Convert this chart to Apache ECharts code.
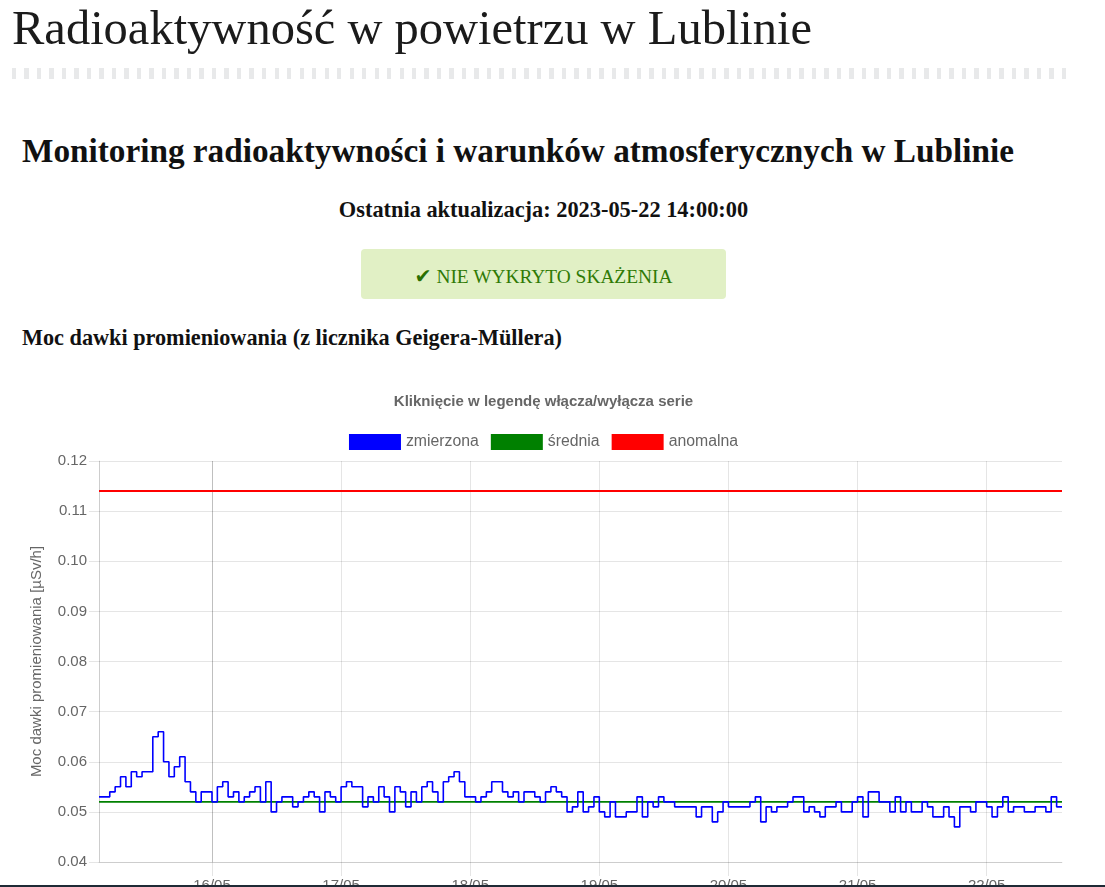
<!DOCTYPE html>
<html lang="pl">
<head>
<meta charset="utf-8">
<title>Radioaktywność w powietrzu w Lublinie</title>
<script src="https://cdn.jsdelivr.net/npm/echarts@6/dist/echarts.min.js"></script>
<style>
html,body{margin:0;padding:0;background:#fff;width:1105px;height:887px;overflow:hidden;}
.t{position:absolute;white-space:nowrap;font-family:"Liberation Serif","Times New Roman",serif;line-height:1;color:#111;}
.sep{position:absolute;left:12px;top:68px;width:1056px;height:11px;
 background:repeating-linear-gradient(90deg,#e8e9ea 0,#e8e9ea 4px,transparent 4px,transparent 12.5px);}
.alert{position:absolute;left:361px;top:249px;width:365px;height:50px;background:#e1f0c5;border-radius:4px;}
.chk{font-family:"DejaVu Sans",sans-serif;font-size:1.05em;color:#2a6f02;}
#chart{position:absolute;left:22px;top:370px;width:1043px;height:517px;}
.bottombar{position:absolute;left:0;bottom:0;width:1105px;height:2px;background:#1f2a35;}
</style>
</head>
<body>
<div class="t" style="left:12px;font-size:48px;color:#1b1b1b" data-w="800" data-base="45">Radioaktywność w powietrzu w Lublinie</div>
<div class="sep"></div>
<div class="t" style="left:22px;font-size:32px;font-weight:bold" data-w="992" data-base="162">Monitoring radioaktywności i warunków atmosferycznych w Lublinie</div>
<div class="t" style="font-size:19px;font-weight:bold" data-w="409" data-cx="543.5" data-base="218">Ostatnia aktualizacja: 2023-05-22 14:00:00</div>
<div class="alert"></div>
<div class="t" style="font-size:21px;color:#2f7a05" data-w="258" data-cx="543.5" data-base="282"><span class="chk">✔</span> NIE WYKRYTO SKAŻENIA</div>
<div class="t" style="left:22px;font-size:20px;font-weight:bold" data-w="540" data-base="346">Moc dawki promieniowania (z licznika Geigera-Müllera)</div>
<div id="chart"></div>
<div class="bottombar"></div>
<script>
// ---------- DATA ----------
const seriesNames = ['zmierzona', 'średnia', 'anomalna'];
const chartTitle = 'Kliknięcie w legendę włącza/wyłącza serie';
const yAxisTitle = 'Moc dawki promieniowania [µSv/h]';
const startTime = new Date(2023, 4, 15, 3, 0, 0).getTime();   // first hourly reading
const endTime = new Date(2023, 4, 22, 14, 0, 0).getTime();    // last update
const hourMs = 3600000;
// hourly measured dose rate [µSv/h]
const day15 = [0.053,0.053,0.054,0.055,0.057,0.055,0.058,0.057,0.058,0.058,0.065,0.066,0.060,0.057,0.059,0.061,0.056,0.054,0.052,0.054,0.054];
const day16 = [0.052,0.055,0.056,0.053,0.054,0.052,0.053,0.054,0.055,0.052,0.056,0.050,0.052,0.053,0.053,0.051,0.052,0.053,0.054,0.053,0.050,0.054,0.053,0.052];
const day17 = [0.055,0.056,0.055,0.055,0.051,0.053,0.052,0.055,0.053,0.050,0.055,0.054,0.051,0.054,0.052,0.055,0.056,0.054,0.052,0.056,0.057,0.058,0.056,0.053];
const day18 = [0.053,0.052,0.053,0.054,0.056,0.056,0.054,0.053,0.054,0.052,0.054,0.054,0.053,0.052,0.054,0.055,0.054,0.053,0.050,0.051,0.054,0.050,0.051,0.053];
const day19 = [0.050,0.049,0.052,0.049,0.049,0.050,0.050,0.053,0.049,0.052,0.051,0.053,0.052,0.052,0.051,0.051,0.051,0.051,0.049,0.051,0.051,0.048,0.050,0.052];
const day20 = [0.051,0.051,0.051,0.051,0.052,0.053,0.048,0.051,0.050,0.051,0.051,0.052,0.053,0.053,0.050,0.051,0.050,0.049,0.051,0.051,0.052,0.050,0.050,0.052];
const day21 = [0.053,0.049,0.054,0.054,0.052,0.052,0.050,0.053,0.050,0.052,0.050,0.050,0.052,0.051,0.049,0.049,0.051,0.049,0.047,0.051,0.051,0.050,0.052,0.052];
const day22 = [0.051,0.049,0.051,0.053,0.050,0.051,0.051,0.050,0.050,0.051,0.051,0.050,0.053,0.051];
const averageLevel = 0.052;
const anomalyLevel = 0.114;
const yMin = 0.04, yMax = 0.12, yStep = 0.01;

// ---------- PAGE TEXT FITTING ----------
document.querySelectorAll('[data-w]').forEach(function (el) {
  const target = +el.dataset.w;
  let fs = parseFloat(el.style.fontSize);
  for (let k = 0; k < 4; k++) {
    const w = el.getBoundingClientRect().width;
    fs = fs * target / w;
    el.style.fontSize = fs + 'px';
  }
  const w = el.getBoundingClientRect().width;
  if (el.dataset.cx) el.style.left = (+el.dataset.cx - w / 2) + 'px';
  if (el.dataset.base) el.style.top = (+el.dataset.base - 0.8375 * fs) + 'px';
});

// ---------- CHART ----------
const measured = [].concat(day15, day16, day17, day18, day19, day20, day21, day22);
const measuredData = measured.map(function (v, i) { return [startTime + i * hourMs, v]; });
measuredData.push([endTime, measured[measured.length - 1]]);

const font = '"Liberation Sans", Arial, Helvetica, sans-serif';
const grid = 'rgba(0,0,0,0.1)';
function pad(n) { return (n < 10 ? '0' : '') + n; }

const chart = echarts.init(document.getElementById('chart'), null, { renderer: 'canvas' });
chart.setOption({
  animation: false,
  backgroundColor: '#fff',
  textStyle: { fontFamily: font },
  title: {
    text: chartTitle, left: 'center', top: 19,
    textStyle: { fontSize: 15, fontWeight: 'bold', color: '#666', fontFamily: font }
  },
  legend: {
    top: 59, left: 'center', icon: 'rect', itemWidth: 52, itemHeight: 16, itemGap: 12,
    data: seriesNames,
    textStyle: { fontSize: 15.8, color: '#666', fontFamily: font }
  },
  grid: { left: 77, right: 3, top: 91, bottom: 25, containLabel: false, outerBoundsMode: 'none' },
  xAxis: {
    type: 'time', min: startTime, max: endTime,
    minInterval: 24 * hourMs, maxInterval: 24 * hourMs, splitNumber: 8,
    axisLine: { show: true, lineStyle: { color: grid, width: 1 } },
    axisTick: { show: true, length: 14, lineStyle: { color: grid } },
    axisLabel: {
      fontSize: 15, color: '#666', margin: 16, fontFamily: font, hideOverlap: false,
      formatter: function (v) {
        const d = new Date(v);
        if (d.getHours() !== 0 || d.getMinutes() !== 0) return '';
        return pad(d.getDate()) + '/' + pad(d.getMonth() + 1);
      }
    },
    splitLine: { show: true, lineStyle: { color: [grid, 'rgba(0,0,0,0.25)', grid, grid, grid, grid, grid, grid, 'rgba(0,0,0,0)'] } }
  },
  yAxis: {
    type: 'value', min: yMin, max: yMax, interval: yStep,
    name: yAxisTitle, nameLocation: 'middle', nameGap: 55,
    nameTextStyle: { color: '#666', fontSize: 15, fontFamily: font },
    axisLine: { show: true, lineStyle: { color: grid } },
    axisTick: { show: true, length: 10, lineStyle: { color: grid } },
    axisLabel: { color: '#666', fontSize: 15, margin: 12, fontFamily: font,
      formatter: function (v) { return v.toFixed(2); } },
    splitLine: { show: true, lineStyle: { color: grid } }
  },
  series: [
    { name: seriesNames[0], type: 'line', step: 'end', data: measuredData, showSymbol: false,
      lineStyle: { color: '#0000ff', width: 1.6 }, itemStyle: { color: '#0000ff' }, z: 5 },
    { name: seriesNames[1], type: 'line', data: [[startTime, averageLevel], [endTime, averageLevel]], showSymbol: false,
      lineStyle: { color: '#008000', width: 1.6 }, itemStyle: { color: '#008000' }, z: 4 },
    { name: seriesNames[2], type: 'line', data: [[startTime, anomalyLevel], [endTime, anomalyLevel]], showSymbol: false,
      lineStyle: { color: '#ff0000', width: 2 }, itemStyle: { color: '#ff0000' }, z: 4 }
  ]
});
</script>
</body>
</html>
